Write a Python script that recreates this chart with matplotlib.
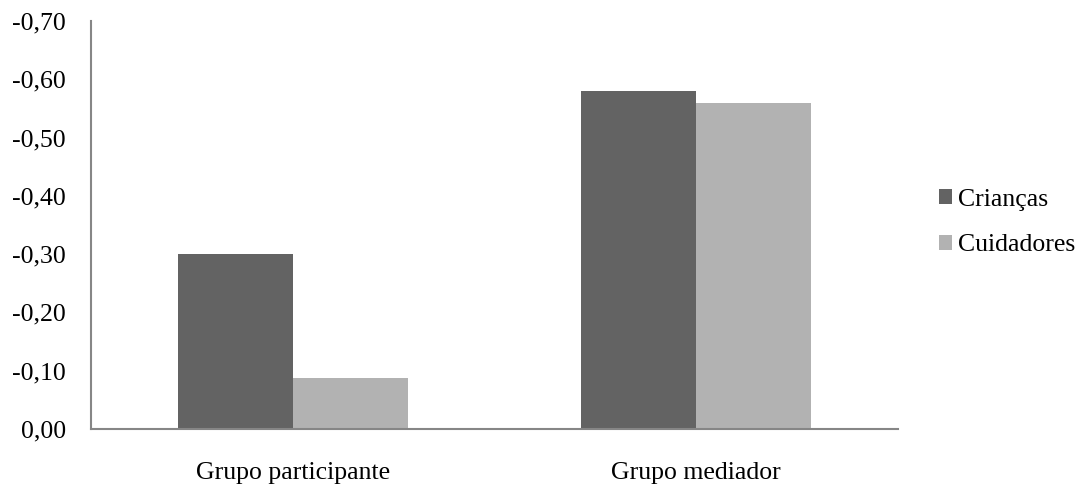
import matplotlib
matplotlib.use("Agg")
import matplotlib.pyplot as plt
import numpy as np
from matplotlib.ticker import FuncFormatter, MultipleLocator

# Dados
grupos = ["Grupo participante", "Grupo mediador"]
series = ["Crianças", "Cuidadores"]
criancas = [-0.30, -0.58]
cuidadores = [-0.087, -0.56]
cores = ["#636363", "#b2b2b2"]

plt.rcParams["font.family"] = ["Liberation Serif", "DejaVu Serif"]

fig = plt.figure(figsize=(10.8, 4.84), dpi=100)
ax = fig.add_axes([0.0843, 0.1136, 0.7472, 0.843])

x = np.arange(len(grupos))
largura = 0.285
b1 = ax.bar(x - largura / 2, criancas, largura, color=cores[0], label=series[0])
b2 = ax.bar(x + largura / 2, cuidadores, largura, color=cores[1], label=series[1])

ax.set_xlim(-0.5, len(grupos) - 0.5)
ax.set_ylim(0, -0.70)
ax.yaxis.set_major_locator(MultipleLocator(0.10))


def fmt(v, pos):
    if abs(v) < 1e-9:
        return "0,00"
    return f"{v:.2f}".replace(".", ",")


ax.yaxis.set_major_formatter(FuncFormatter(fmt))
ax.set_xticks(x)
ax.set_xticklabels(grupos)

for lado in ["top", "right"]:
    ax.spines[lado].set_visible(False)
for lado in ["left", "bottom"]:
    ax.spines[lado].set_color("#868686")
    ax.spines[lado].set_linewidth(1.5)

ax.tick_params(axis="both", length=0, labelsize=18.5, colors="black")
ax.tick_params(axis="y", pad=18)
ax.tick_params(axis="x", pad=24)

fig.legend(
    handles=[b1, b2],
    labels=series,
    loc="center left",
    bbox_to_anchor=(0.8477, 0.5406),
    frameon=False,
    fontsize=18.5,
    handlelength=0.52,
    handleheight=0.52,
    handletextpad=0.25,
    labelspacing=0.92,
)

fig.savefig("out.png", dpi=100)
